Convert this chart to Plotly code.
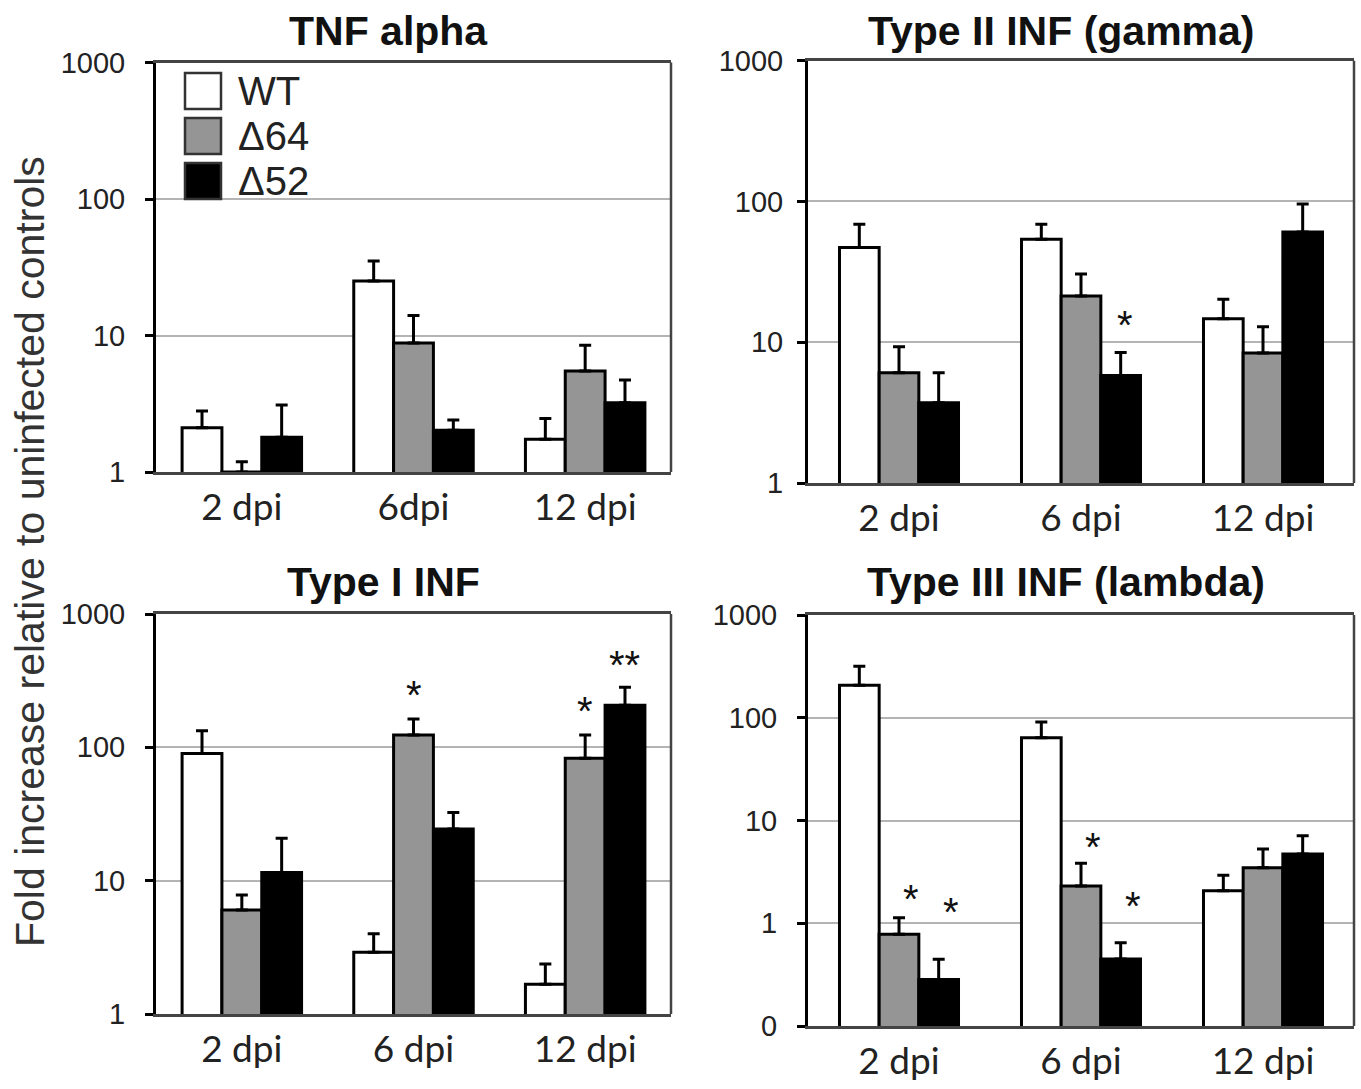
import math
import plotly.graph_objects as go

W, H = 1361, 1089

# ---------------- data ----------------
series_names = ["WT", "Δ64", "Δ52"]
series_colors = ["#ffffff", "#959595", "#000000"]

cats_tnf = ["2 dpi", "6dpi", "12 dpi"]
cats = ["2 dpi", "6 dpi", "12 dpi"]

# TNF alpha
tnf_wt = [2.11, 25.1, 1.74]
tnf_d64 = [1.0, 8.8, 5.5]
tnf_d52 = [1.80, 2.02, 3.22]
tnf_wt_top = [2.8, 35.1, 2.47]
tnf_d64_top = [1.19, 14.0, 8.5]
tnf_d52_top = [3.1, 2.40, 4.72]

# Type II INF (gamma)
gam_wt = [47, 53.8, 14.7]
gam_d64 = [6.06, 21.3, 8.4]
gam_d52 = [3.71, 5.8, 60.6]
gam_wt_top = [69, 69, 20.2]
gam_d64_top = [9.3, 30.5, 12.9]
gam_d52_top = [6.06, 8.45, 96]

# Type I INF
t1_wt = [90, 2.9, 1.67]
t1_d64 = [6.03, 124, 82.8]
t1_d52 = [11.5, 24.4, 207]
t1_wt_top = [133, 4.0, 2.37]
t1_d64_top = [7.8, 163, 124]
t1_d52_top = [20.8, 32.4, 282]

# Type III INF (lambda)
t3_wt = [207, 63.7, 2.07]
t3_d64 = [0.78, 2.30, 3.47]
t3_d52 = [0.284, 0.449, 4.71]
t3_wt_top = [318, 91, 2.94]
t3_d64_top = [1.13, 3.83, 5.27]
t3_d52_top = [0.446, 0.645, 7.1]

ticks_main = [1, 10, 100, 1000]
ticktext_main = ["1", "10", "100", "1000"]
ticks_lambda = [0.1, 1, 10, 100, 1000]
ticktext_lambda = ["0", "1", "10", "100", "1000"]

# significance marks: (panel index, category index, series index, text, y position)
stars = [
    (1, 1, 2, "*", 15.1),
    (2, 1, 1, "*", 282),
    (2, 2, 1, "*", 216),
    (2, 2, 2, "**", 474),
    (3, 0, 1, "*", 2.06),
    (3, 0, 2, "*", 1.54),
    (3, 1, 1, "*", 6.55),
    (3, 1, 2, "*", 1.77),
]

titles = ["TNF alpha", "Type II INF (gamma)", "Type I INF", "Type III INF (lambda)"]
y_title = "Fold increase relative to uninfected controls"

# ---------------- layout geometry (pixels) ----------------
panels = [
    dict(cats=cats_tnf, means=[tnf_wt, tnf_d64, tnf_d52], tops=[tnf_wt_top, tnf_d64_top, tnf_d52_top],
         tv=ticks_main, tt=ticktext_main, rng=[0, 3], box=(156, 671, 62.5, 472), bw=0.232,
         title_xy=(388, 31), standoff=14, star_dx=0),
    dict(cats=cats, means=[gam_wt, gam_d64, gam_d52], tops=[gam_wt_top, gam_d64_top, gam_d52_top],
         tv=ticks_main, tt=ticktext_main, rng=[0, 3], box=(808, 1354, 60.7, 483), bw=0.218,
         title_xy=(1061, 31), standoff=8, star_dx=4),
    dict(cats=cats, means=[t1_wt, t1_d64, t1_d52], tops=[t1_wt_top, t1_d64_top, t1_d52_top],
         tv=ticks_main, tt=ticktext_main, rng=[0, 3], box=(156, 671, 614, 1014), bw=0.232,
         title_xy=(383, 582), standoff=14, star_dx=0),
    dict(cats=cats, means=[t3_wt, t3_d64, t3_d52], tops=[t3_wt_top, t3_d64_top, t3_d52_top],
         tv=ticks_lambda, tt=ticktext_lambda, rng=[-1, 3], box=(808, 1354, 615, 1026), bw=0.218,
         title_xy=(1066, 582), standoff=14, star_dx=12),
]


def px_x(x):
    return x / W


def px_y(y):
    return 1 - y / H


TICK_FONT = dict(family="Liberation Sans, Arial, sans-serif", size=29, color="#222222")
CAT_FONT = dict(family="Lato, Calibri, sans-serif", size=37, color="#222222")
TITLE_FONT = dict(family="Liberation Sans, Arial, sans-serif", size=41, color="#111111")
BORDER = "#444444"

fig = go.Figure()
layout = dict(
    width=W, height=H, margin=dict(l=0, r=0, t=0, b=0, autoexpand=False),
    paper_bgcolor="white", plot_bgcolor="white",
    barmode="overlay", showlegend=False,
)
annotations = []
shapes = []

for pi, p in enumerate(panels):
    n = "" if pi == 0 else str(pi + 1)
    xa, ya = "x" + n, "y" + n
    x0, x1, y0, y1 = p["box"]
    bw = p["bw"]
    for si in range(3):
        m = p["means"][si]
        t = p["tops"][si]
        fig.add_trace(go.Bar(
            x=p["cats"], y=m, xaxis=xa, yaxis=ya,
            width=bw, offset=-1.5 * bw + si * bw,
            marker=dict(color=series_colors[si], line=dict(color="black", width=3)),
            error_y=dict(type="data", symmetric=False,
                         array=[tt - mm for tt, mm in zip(t, m)], arrayminus=[0, 0, 0],
                         color="black", thickness=3, width=6),
            name=series_names[si], showlegend=False,
        ))
    layout["xaxis" + n] = dict(
        domain=[px_x(x0), px_x(x1)], anchor=ya, type="category",
        categoryorder="array", categoryarray=p["cats"], automargin=False,
        showline=True, linecolor=BORDER, linewidth=2.5, mirror=True,
        ticks="", showgrid=False, tickfont=CAT_FONT, ticklabelstandoff=1,
        fixedrange=True,
    )
    layout["yaxis" + n] = dict(
        domain=[px_y(y1), px_y(y0)], anchor=xa, type="log", range=p["rng"],
        tickvals=p["tv"], ticktext=p["tt"], automargin=False,
        showline=True, linecolor="black", linewidth=3,
        ticks="outside", ticklen=8, tickwidth=3, tickcolor="black",
        showgrid=True, gridcolor="#b4b4b4", gridwidth=1.5,
        tickfont=TICK_FONT, ticklabelstandoff=p["standoff"], zeroline=False,
        fixedrange=True,
    )
    # right border
    shapes.append(dict(type="line", xref=xa + " domain", yref=ya + " domain",
                       x0=1, x1=1, y0=0, y1=1, line=dict(color=BORDER, width=2.5)))
    # title
    annotations.append(dict(text="<b>%s</b>" % titles[pi], xref="paper", yref="paper",
                            x=px_x(p["title_xy"][0]), y=px_y(p["title_xy"][1]),
                            xanchor="center", yanchor="middle", showarrow=False,
                            font=TITLE_FONT))

# significance stars
for (pi, ci, si, txt, yv) in stars:
    p = panels[pi]
    n = "" if pi == 0 else str(pi + 1)
    x0, x1, _, _ = p["box"]
    catw = (x1 - x0) / 3.0
    bw = p["bw"]
    shift = (-1.5 * bw + si * bw + bw / 2) * catw + p["star_dx"]
    annotations.append(dict(text=txt, x=p["cats"][ci], y=math.log10(yv),
                            xref="x" + n, yref="y" + n, xshift=shift, yshift=-8,
                            xanchor="center", yanchor="middle", showarrow=False,
                            font=dict(family="Liberation Sans, Arial, sans-serif", size=40,
                                      color="#111111")))

# y-axis title
annotations.append(dict(text=y_title, xref="paper", yref="paper", x=px_x(30), y=px_y(552),
                        xanchor="center", yanchor="middle", textangle=-90, showarrow=False,
                        font=dict(family="Liberation Sans, Arial, sans-serif", size=41,
                                  color="#333333")))

# legend (inside first panel)
leg_box_x0, leg_box_x1 = 185, 221
leg_y_centers = [91, 136, 181]
for si, name in enumerate(series_names):
    cy = leg_y_centers[si]
    shapes.append(dict(type="rect", xref="paper", yref="paper",
                       x0=px_x(leg_box_x0), x1=px_x(leg_box_x1),
                       y0=px_y(cy + 18), y1=px_y(cy - 18),
                       fillcolor=series_colors[si], line=dict(color="#333333", width=2.5)))
    annotations.append(dict(text=name, xref="paper", yref="paper", x=px_x(236), y=px_y(cy),
                            xanchor="left", yanchor="middle", showarrow=False,
                            font=dict(family="Liberation Sans, Arial, sans-serif", size=40,
                                      color="#222222")))

layout["annotations"] = annotations
layout["shapes"] = shapes
fig.update_layout(**layout)

fig.write_html(
    "out.html",
    config={"displayModeBar": False},
    post_script="document.body.style.margin='0px';document.body.style.overflow='hidden';",
)
